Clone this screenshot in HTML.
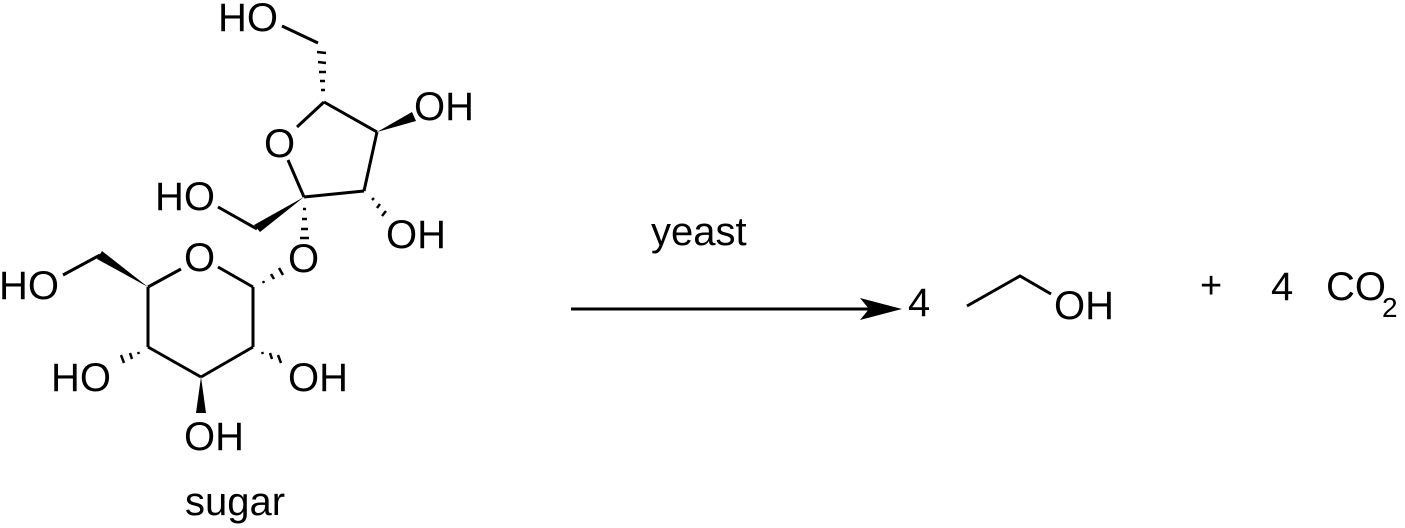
<!DOCTYPE html>
<html><head><meta charset="utf-8"><style>
html,body{margin:0;padding:0;background:#fff;}
svg{display:block}
text{font-family:"Liberation Sans",Arial,sans-serif;font-size:40px;fill:#000}
</style></head><body>
<svg width="1405" height="528" viewBox="0 0 1405 528" xmlns="http://www.w3.org/2000/svg">
<g stroke="#000" stroke-width="3" fill="none" stroke-linecap="butt">
<line x1="282" y1="26" x2="318" y2="43"/>
<line x1="324" y1="102" x2="297" y2="127"/>
<line x1="324" y1="102" x2="377" y2="132"/>
<line x1="377" y1="132" x2="364" y2="191"/>
<line x1="364" y1="191" x2="304" y2="197"/>
<line x1="304" y1="197" x2="288" y2="160"/>
<line x1="257" y1="229" x2="218" y2="207"/>
<line x1="100" y1="255" x2="63" y2="275"/>
<line x1="148" y1="287" x2="181" y2="269"/>
<line x1="218" y1="267" x2="253" y2="287"/>
<line x1="253" y1="287" x2="253" y2="347"/>
<line x1="253" y1="347" x2="201" y2="377"/>
<line x1="201" y1="377" x2="148" y2="347"/>
<line x1="148" y1="347" x2="148" y2="287"/>
<polyline points="967,306 1020,276 1051,294"/>
<line x1="571" y1="309" x2="870" y2="309"/>
</g>
<g fill="#000">
<polygon points="902,309 860,298 869,309 860,320"/>
<polygon points="377,132 412,112 416,121"/>
<polygon points="304,197 254,225 260,232"/>
<polygon points="148,287 97,259 102,251"/>
<polygon points="201,377 196,413 206,413"/>
</g>
<g stroke="#000" stroke-width="2.5">
<line x1="317" y1="52" x2="326" y2="53"/>
<line x1="318" y1="62" x2="326" y2="63"/>
<line x1="319" y1="72" x2="326" y2="72"/>
<line x1="320" y1="81" x2="325" y2="81"/>
<line x1="321" y1="90" x2="325" y2="90"/>
<line x1="372" y1="200" x2="374" y2="198"/>
<line x1="377" y1="208" x2="380" y2="204"/>
<line x1="382" y1="216" x2="386" y2="211"/>
<line x1="303" y1="209" x2="306" y2="209"/>
<line x1="302" y1="219" x2="307" y2="219"/>
<line x1="301" y1="229" x2="308" y2="229"/>
<line x1="300" y1="238" x2="309" y2="238"/>
<line x1="263" y1="281" x2="264" y2="283"/>
<line x1="271" y1="274" x2="274" y2="279"/>
<line x1="279" y1="268" x2="283" y2="275"/>
<line x1="138" y1="352" x2="139" y2="354"/>
<line x1="130" y1="353" x2="132" y2="359"/>
<line x1="121" y1="355" x2="124" y2="363"/>
<line x1="262" y1="352" x2="263" y2="354"/>
<line x1="270" y1="353" x2="272" y2="359"/>
<line x1="278" y1="355" x2="281" y2="363"/>
</g>
<text x="218" y="31">HO</text>
<text x="414" y="120">OH</text>
<text x="264" y="157">O</text>
<text x="155" y="210">HO</text>
<text x="386" y="248">OH</text>
<text x="288" y="272">O</text>
<text x="184" y="271">O</text>
<text x="-1" y="299">HO</text>
<text x="51" y="391">HO</text>
<text x="288" y="391">OH</text>
<text x="184" y="450">OH</text>
<text x="185" y="515">sugar</text>
<text x="651" y="245">yeast</text>
<text x="908" y="316">4</text>
<text x="1054" y="319">OH</text>
<text x="1200" y="298" style="font-size:38px">+</text>
<text x="1271" y="300">4</text>
<text x="1326" y="300">CO</text>
<text x="1382" y="317" style="font-size:28px">2</text>
</svg>
</body></html>
